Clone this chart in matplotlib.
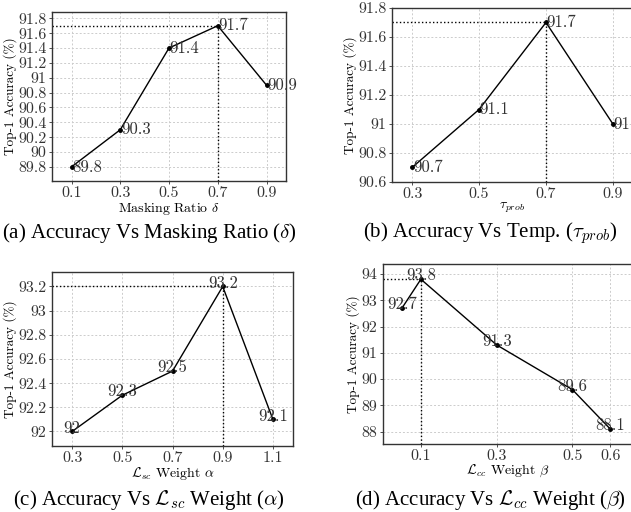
import matplotlib
matplotlib.use("Agg")
import matplotlib.pyplot as plt

plt.rcParams['font.family'] = ['cmr10', 'DejaVu Serif']
plt.rcParams['mathtext.fontset'] = 'cm'
plt.rcParams['axes.formatter.use_mathtext'] = True
plt.rcParams['axes.unicode_minus'] = False

# (a) masking ratio
mask_x = [0.1, 0.3, 0.5, 0.7, 0.9]
mask_y = [89.8, 90.3, 91.4, 91.7, 90.9]
mask_xticks = [0.1, 0.3, 0.5, 0.7, 0.9]
mask_yticks = [89.8, 90.0, 90.2, 90.4, 90.6, 90.8, 91.0, 91.2, 91.4, 91.6, 91.8]

# (b) temperature
temp_x = [0.3, 0.5, 0.7, 0.9]
temp_y = [90.7, 91.1, 91.7, 91.0]
temp_xticks = [0.3, 0.5, 0.7, 0.9]
temp_yticks = [90.6, 90.8, 91.0, 91.2, 91.4, 91.6, 91.8]

# (c) L_sc weight
sc_x = [0.3, 0.5, 0.7, 0.9, 1.1]
sc_y = [92.0, 92.3, 92.5, 93.2, 92.1]
sc_xticks = [0.3, 0.5, 0.7, 0.9, 1.1]
sc_yticks = [92.0, 92.2, 92.4, 92.6, 92.8, 93.0, 93.2]

# (d) L_cc weight
cc_x = [0.05, 0.1, 0.3, 0.5, 0.6]
cc_y = [92.7, 93.8, 91.3, 89.6, 88.1]
cc_xticks = [0.1, 0.3, 0.5, 0.6]
cc_yticks = [88, 89, 90, 91, 92, 93, 94]

W, H = 631, 512
fig = plt.figure(figsize=(W / 100, H / 100), dpi=100)

def ax_at(l, r, t, b):
    return fig.add_axes([l / W, 1 - b / H, (r - l) / W, (b - t) / H])

def fmt(v):
    return f"{v:g}"

def panel(ax, xs, ys, xticks, yticks, xlim, ylim, xlabel, style):
    ax.plot(xs, ys, color='black', lw=1.0, marker='o', ms=2.5, zorder=3)
    ax.set_xlim(*xlim)
    ax.set_ylim(*ylim)
    ax.set_xticks(xticks)
    ax.set_xticklabels([fmt(v) for v in xticks])
    ax.set_yticks(yticks)
    ax.set_yticklabels([fmt(v) for v in yticks])
    ax.grid(True, ls=(0, (2, 2)), color='#cccccc', lw=0.7)
    ax.set_axisbelow(True)
    ax.tick_params(labelsize=11.5, length=2.5, width=0.6, pad=1.5, colors='#333333')
    for s in ax.spines.values():
        s.set_color('#333333')
        s.set_linewidth(1.0)
    ax.set_ylabel('Top-1 Accuracy (%)', fontsize=9.5, labelpad=1)
    ax.set_xlabel(xlabel, fontsize=10, labelpad=-0.5)
    i = max(range(len(ys)), key=lambda k: ys[k])
    ax.plot([xlim[0], xs[i]], [ys[i], ys[i]], ls=':', color='black', lw=1.0, zorder=2)
    ax.plot([xs[i], xs[i]], [ylim[0], ys[i]], ls=':', color='black', lw=1.0, zorder=2)
    for x, y in zip(xs, ys):
        if style == 'right':
            ax.annotate(fmt(y), (x, y), xytext=(0.5, 0), textcoords='offset points',
                        ha='left', va='center', fontsize=12, color='#333333')
        else:
            ax.annotate(fmt(y), (x, y), xytext=(0, -3), textcoords='offset points',
                        ha='center', va='bottom', fontsize=12, color='#333333')

ax_a = ax_at(52, 286, 12, 181)
panel(ax_a, mask_x, mask_y, mask_xticks, mask_yticks, (0.02, 0.98), (89.61, 91.885),
      r'Masking Ratio $\delta$', 'right')

ax_b = ax_at(392, 633, 8, 182)
panel(ax_b, temp_x, temp_y, temp_xticks, temp_yticks, (0.24, 0.96), (90.6, 91.8),
      r'$\tau_{prob}$', 'right')

ax_c = ax_at(52, 293, 272, 446)
panel(ax_c, sc_x, sc_y, sc_xticks, sc_yticks, (0.22, 1.18), (91.88, 93.32),
      r'$\mathcal{L}_{sc}$ Weight $\alpha$', 'above')

ax_d = ax_at(383, 633, 264, 444)
panel(ax_d, cc_x, cc_y, cc_xticks, cc_yticks, (0.0, 0.66), (87.53, 94.38),
      r'$\mathcal{L}_{cc}$ Weight $\beta$', 'above')

cap = dict(fontsize=15, family='Liberation Serif', ha='center', va='center')
fig.text(149 / W, 1 - 233 / H, r'(a) Accuracy Vs Masking Ratio ($\delta$)', **cap)
fig.text(490 / W, 1 - 233 / H, r'(b) Accuracy Vs Temp. ($\tau_{prob}$)', **cap)
fig.text(149 / W, 1 - 500 / H, r'(c) Accuracy Vs $\mathcal{L}_{sc}$ Weight ($\alpha$)', **cap)
fig.text(490 / W, 1 - 500 / H, r'(d) Accuracy Vs $\mathcal{L}_{cc}$ Weight ($\beta$)', **cap)

fig.savefig('out.png', dpi=100)
